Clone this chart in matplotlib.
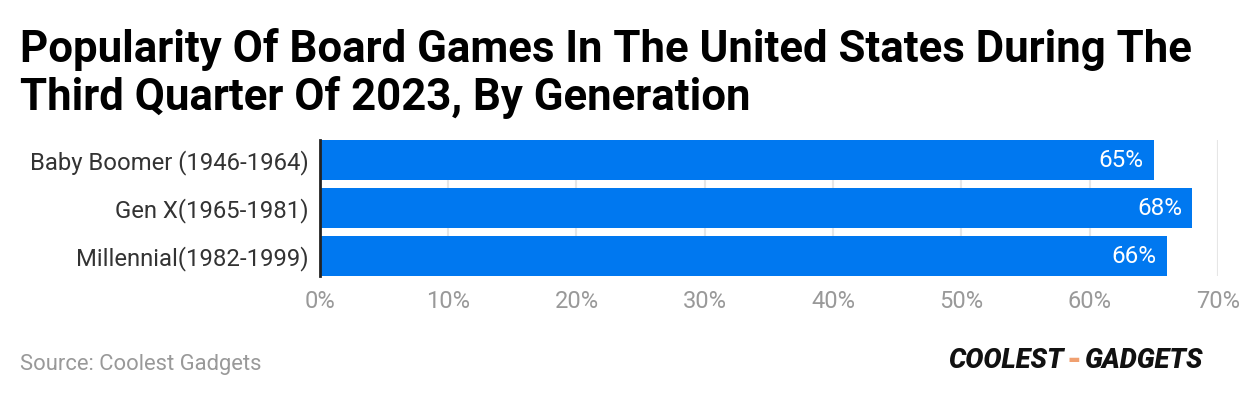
import numpy as np
from matplotlib import pyplot as plt

plt.rcParams['font.family'] = ['Roboto', 'DejaVu Sans']

generations = ['Baby Boomer (1946-1964)', 'Gen X(1965-1981)', 'Millennial(1982-1999)']
popularity = [65, 68, 66]
ticks = [0, 10, 20, 30, 40, 50, 60, 70]

fig = plt.figure(figsize=(12.4, 3.98), dpi=100)
ax = fig.add_axes([0.258, 0.3065, 0.7242, 0.3417])

y = np.arange(len(generations))
height = 0.833
ax.barh(y, popularity, height=height, color='#0078f0', zorder=2)
ax.set_ylim(len(generations) - 1 + height / 2, -height / 2)
ax.set_xlim(0, 70)
ax.set_yticks(y)
ax.set_yticklabels(generations, fontsize=17.2, color='#333333')
ax.set_xticks(ticks)
ax.set_xticklabels([f'{t}%' for t in ticks], fontsize=17, color='#999999')
ax.tick_params(axis='both', length=0)
ax.tick_params(axis='x', pad=10)
ax.tick_params(axis='y', pad=8)
ax.grid(axis='x', color='#e6e6e6', linewidth=1.5, zorder=0)
for s in ['top', 'right', 'bottom']:
    ax.spines[s].set_visible(False)
ax.spines['left'].set_color('#222222')
ax.spines['left'].set_linewidth(2)
ax.spines['left'].set_zorder(3)

# 数值标签
for i, v in enumerate(popularity):
    ax.text(v - 0.8, i, f'{v}%', ha='right', va='center', color='white', fontsize=17.5, zorder=4)

fig.text(0.016, 0.815, 'Popularity Of Board Games In The United States During The\nThird Quarter Of 2023, By Generation',
         fontsize=31.5, fontweight='bold', color='black', ha='left', va='center', linespacing=1.15)
fig.text(0.016, 0.085, 'Source: Coolest Gadgets', fontsize=15.8, color='#999999', ha='left', va='center')

# logo
fig.text(0.858, 0.093, 'COOLEST', fontsize=19.5, fontweight='heavy', style='italic', color='#111111', ha='right', va='center')
fig.text(0.866, 0.093, '-', fontsize=24, fontweight='heavy', color='#f0a070', ha='center', va='center')
fig.text(0.874, 0.093, 'GADGETS', fontsize=19.5, fontweight='heavy', style='italic', color='#111111', ha='left', va='center')

fig.savefig('out.png', dpi=100)
